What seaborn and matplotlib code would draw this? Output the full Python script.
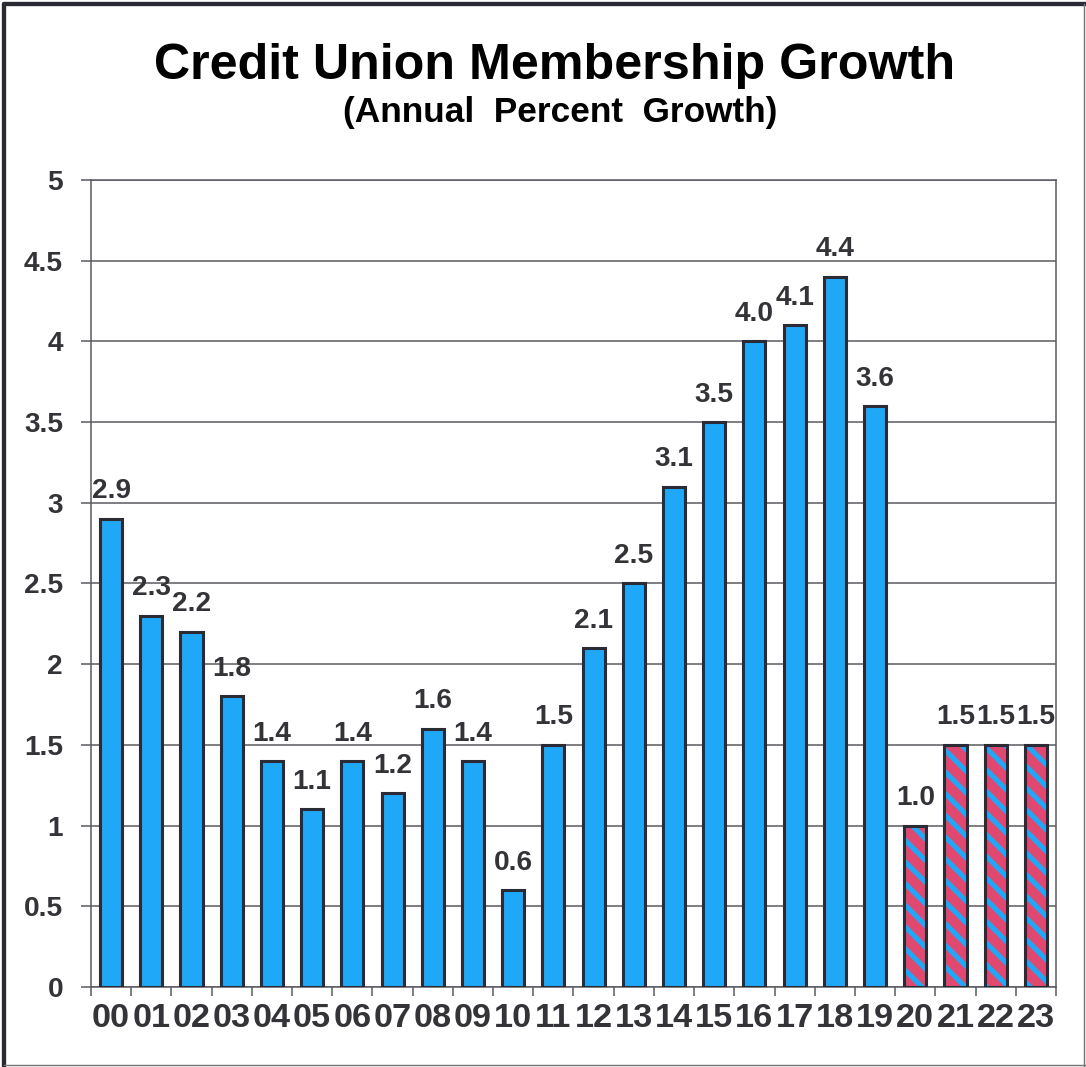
import matplotlib
matplotlib.use("Agg")
import matplotlib.pyplot as plt
from matplotlib.patches import Rectangle
from matplotlib.lines import Line2D
from matplotlib.ticker import FixedLocator
import seaborn as sns
import pandas as pd

# Annual percent growth in credit union membership
years = ["00", "01", "02", "03", "04", "05", "06", "07", "08", "09", "10", "11",
         "12", "13", "14", "15", "16", "17", "18", "19", "20", "21", "22", "23"]
growth = [2.9, 2.3, 2.2, 1.8, 1.4, 1.1, 1.4, 1.2, 1.6, 1.4, 0.6, 1.5,
          2.1, 2.5, 3.1, 3.5, 4.0, 4.1, 4.4, 3.6, 1.0, 1.5, 1.5, 1.5]
# Years shown with a striped fill (estimates / forecasts)
striped_years = ["20", "21", "22", "23"]
ytick_labels = ["0", "0.5", "1", "1.5", "2", "2.5", "3", "3.5", "4", "4.5", "5"]

BLUE = "#20A8F8"
PINK = "#E0486F"
EDGE = "#2B2B36"
GRID = "#5A5A60"
TEXT = "#333338"

sns.set_theme(style="white")
plt.rcParams["font.family"] = ["Liberation Sans", "DejaVu Sans"]
plt.rcParams["hatch.linewidth"] = 2.8

DPI = 130
fig = plt.figure(figsize=(1086 / DPI, 1067 / DPI), dpi=DPI)
fig.patch.set_facecolor("white")
ax = fig.add_axes([91 / 1086, 80 / 1067, (1056 - 91) / 1086, (987 - 180) / 1067])

df = pd.DataFrame({"year": years, "growth": growth})
palette = {y: (PINK if y in striped_years else BLUE) for y in years}
sns.barplot(data=df, x="year", y="growth", hue="year", palette=palette,
            legend=False, width=0.55, edgecolor=EDGE, linewidth=1.7,
            saturation=1, ax=ax, zorder=3)

# Striped bars: blue diagonal hatch over pink, with a dark outline on top
for patch, y in zip(ax.patches, years):
    if y in striped_years:
        patch.set_edgecolor(BLUE)
        patch.set_hatch("\\\\")
        patch.set_linewidth(0)
        outline = Rectangle(patch.get_xy(), patch.get_width(), patch.get_height(),
                            fill=False, edgecolor=EDGE, linewidth=1.7, zorder=4)
        ax.add_patch(outline)

for cont in ax.containers:
    ax.bar_label(cont, fmt="{:.1f}", padding=8, fontsize=15.5,
                 fontweight="bold", color=TEXT)

ax.set_ylim(0, 5)
ax.set_xlim(-0.5, len(years) - 0.5)
ax.set_yticks([float(t) for t in ytick_labels])
ax.set_yticklabels(ytick_labels)
ax.grid(axis="y", color=GRID, linewidth=0.85, zorder=0)
ax.set_axisbelow(True)
ax.set_xlabel("")
ax.set_ylabel("")

# Category labels centred, tick marks on the category boundaries
ax.xaxis.set_minor_locator(FixedLocator([i - 0.5 for i in range(len(years) + 1)]))
ax.tick_params(axis="x", which="major", length=0, pad=9, labelsize=19,
               labelcolor=TEXT)
ax.tick_params(axis="x", which="minor", bottom=True, length=5, width=0.85,
               color=GRID, direction="out")
ax.tick_params(axis="y", which="major", left=True, length=5.5, width=0.85,
               color=GRID, direction="out", pad=10, labelsize=15.5,
               labelcolor=TEXT)
for lab in ax.get_xticklabels() + ax.get_yticklabels():
    lab.set_fontweight("bold")

for side in ["left", "right", "top", "bottom"]:
    ax.spines[side].set_visible(True)
    ax.spines[side].set_color(GRID)
    ax.spines[side].set_linewidth(0.85)

fig.text(555 / 1086, 1 - 79 / 1067, "Credit Union Membership Growth",
         ha="center", va="baseline", fontsize=27.8, fontweight="bold",
         color="black")
fig.text(560 / 1086, 1 - 122 / 1067, "(Annual  Percent  Growth)",
         ha="center", va="baseline", fontsize=19.5, fontweight="bold",
         color="black")

# Outer frame: heavy dark left/top edges, thin grey right/bottom edges
fig.add_artist(Line2D([4 / 1086, 4 / 1086], [0, 1 - 4 / 1067],
                      transform=fig.transFigure, color=EDGE, linewidth=2.4))
fig.add_artist(Line2D([4 / 1086, 1], [1 - 4 / 1067, 1 - 4 / 1067],
                      transform=fig.transFigure, color=EDGE, linewidth=2.4))
fig.add_artist(Line2D([1084 / 1086, 1084 / 1086], [0, 1 - 4 / 1067],
                      transform=fig.transFigure, color="#777777", linewidth=0.8))
fig.add_artist(Line2D([4 / 1086, 1], [2 / 1067, 2 / 1067],
                      transform=fig.transFigure, color="#777777", linewidth=0.8))

fig.savefig("out.png", dpi=DPI)
